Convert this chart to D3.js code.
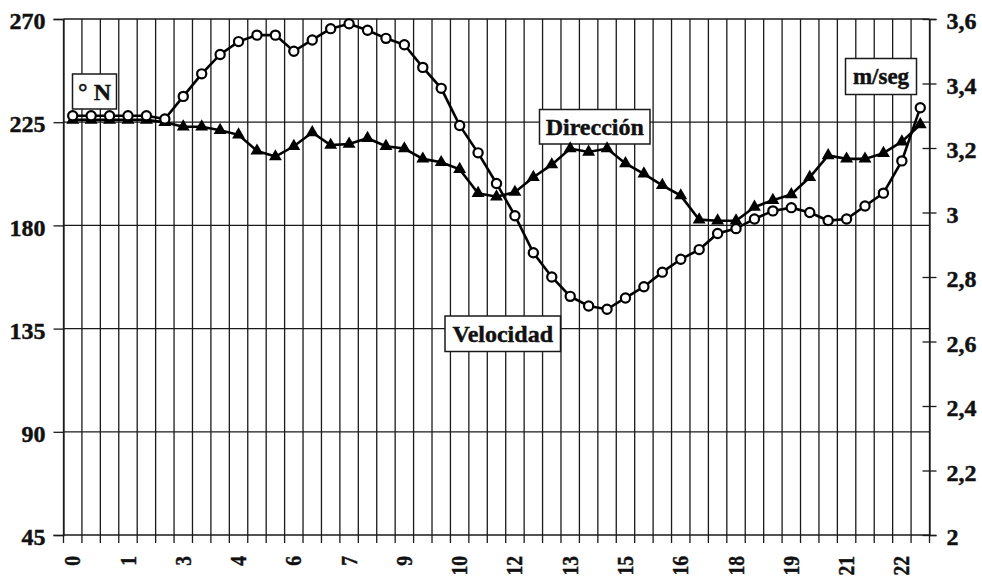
<!DOCTYPE html>
<html>
<head>
<meta charset="utf-8">
<script src="https://cdn.jsdelivr.net/npm/d3@7/dist/d3.min.js"></script>
<style>
  html, body { margin: 0; padding: 0; background: #fff; }
  svg { display: block; }
  text { font-family: "Liberation Serif", "Times New Roman", serif; font-weight: bold; fill: #111; stroke: #111; stroke-width: 0.45px; }
</style>
</head>
<body>
<svg id="chart" width="982" height="577"></svg>
<script>
// Half-hourly readings, 0:00 to 23:00
const horas = [
  "0:00","0:30","1:00","1:30","2:00","2:30","3:00","3:30","4:00","4:30",
  "5:00","5:30","6:00","6:30","7:00","7:30","8:00","8:30","9:00","9:30",
  "10:00","10:30","11:00","11:30","12:00","12:30","13:00","13:30","14:00","14:30",
  "15:00","15:30","16:00","16:30","17:00","17:30","18:00","18:30","19:00","19:30",
  "20:00","20:30","21:00","21:30","22:00","22:30","23:00"
];

// Wind direction (degrees from North), left axis
const direccion = [
  226, 226, 226, 226, 226, 225, 223, 223, 221.5, 219.5,
  212.5, 210, 214.5, 220.5, 215, 215.5, 218, 214.5, 213.5, 209,
  207.5, 204.5, 194, 192.5, 194.5, 201, 206.5, 213.5, 212, 213.5,
  207, 202.5, 197.5, 193, 182.5, 182, 182, 188, 191, 193.5,
  201, 210.5, 209, 209, 211.5, 216.5, 224
];

// Wind speed (m/seg), right axis
const velocidad = [
  3.30, 3.30, 3.30, 3.30, 3.30, 3.29, 3.36, 3.43, 3.49, 3.53,
  3.55, 3.55, 3.50, 3.535, 3.57, 3.585, 3.565, 3.54, 3.52, 3.45,
  3.385, 3.27, 3.185, 3.09, 2.99, 2.875, 2.80, 2.74, 2.71, 2.70,
  2.735, 2.77, 2.815, 2.855, 2.885, 2.935, 2.95, 2.98, 3.005, 3.015,
  3.00, 2.975, 2.98, 3.02, 3.06, 3.16, 3.325
];

// Axis ticks and labels
const ticksIzq = [45, 90, 135, 180, 225, 270];
const ticksDer = [2, 2.2, 2.4, 2.6, 2.8, 3, 3.2, 3.4, 3.6];
const etiquetasDer = ["2", "2,2", "2,4", "2,6", "2,8", "3", "3,2", "3,4", "3,6"];
const etiquetasX = ["0","1","3","4","6","7","9","10","12","13","15","16","18","19","21","22"];

const svg = d3.select("#chart");
const plotL = 63.5, plotR = 929.5, plotT = 19, plotB = 535;

const x = d3.scaleBand().domain(horas).range([plotL, plotR]).padding(0);
const yIzq = d3.scaleLinear().domain([45, 270]).range([plotB, plotT]);
const yDer = d3.scaleLinear().domain([2, 3.6]).range([plotB, plotT]);

const ink = "#1a1a1a";

// Vertical grid lines at every category boundary (with ticks below the axis)
const bordes = horas.map(h => x(h)).concat([x(horas[horas.length - 1]) + x.step()]);
svg.append("g").selectAll("line").data(bordes).join("line")
  .attr("x1", d => d).attr("x2", d => d)
  .attr("y1", plotT).attr("y2", plotB + 8)
  .attr("stroke", ink).attr("stroke-width", 1.3);

// Horizontal grid lines from the left axis
svg.append("g").selectAll("line").data(ticksIzq).join("line")
  .attr("x1", plotL).attr("x2", plotR)
  .attr("y1", d => yIzq(d)).attr("y2", d => yIzq(d))
  .attr("stroke", ink).attr("stroke-width", 1.3);

// Left axis
const ejeIzq = svg.append("g").attr("transform", `translate(${plotL},0)`)
  .call(d3.axisLeft(yIzq).tickValues(ticksIzq).tickSize(10).tickPadding(8).tickFormat(d3.format("d")));
ejeIzq.select(".domain").attr("stroke", ink).attr("stroke-width", 1.3);
ejeIzq.selectAll(".tick line").attr("stroke", ink).attr("stroke-width", 1.3);
ejeIzq.selectAll(".tick text").attr("font-size", 24).attr("dy", "0.4em");

// Right axis with ticks crossing the frame
const ejeDer = svg.append("g").attr("transform", `translate(${plotR},0)`)
  .call(d3.axisRight(yDer).tickValues(ticksDer).tickSize(7).tickPadding(10)
    .tickFormat((d, i) => etiquetasDer[i]));
ejeDer.select(".domain").attr("stroke", ink).attr("stroke-width", 1.3);
ejeDer.selectAll(".tick line").attr("x1", -7).attr("stroke", ink).attr("stroke-width", 1.3);
ejeDer.selectAll(".tick text").attr("font-size", 24).attr("dy", "0.4em");

// Category labels, every third half-hour, rotated and slightly condensed
const conEtiqueta = horas.filter((h, i) => i % 3 === 0);
svg.append("g").selectAll("text").data(conEtiqueta).join("text")
  .attr("transform", d => `translate(${x(d) + x.bandwidth() / 2},556) rotate(-90) scale(0.85,1)`)
  .attr("text-anchor", "end")
  .attr("dominant-baseline", "central")
  .attr("font-size", 23)
  .text((d, i) => etiquetasX[i]);

// Text boxes
function caja(x0, y0, w, h, texto, size) {
  const g = svg.append("g");
  g.append("rect").attr("x", x0).attr("y", y0).attr("width", w).attr("height", h)
    .attr("fill", "#fff").attr("stroke", ink).attr("stroke-width", 1.5);
  g.append("text").attr("x", x0 + w / 2).attr("y", y0 + h / 2)
    .attr("text-anchor", "middle").attr("dominant-baseline", "central")
    .attr("font-size", size).text(texto);
}
caja(72.5, 74, 44, 35, "° N", 24);
caja(539.5, 109.5, 110.5, 34.5, "Dirección", 24);
caja(845.5, 58.5, 71, 36, "m/seg", 23);
caja(445, 316, 115.5, 35.5, "Velocidad", 24);

const cx = h => x(h) + x.bandwidth() / 2;

// Direction series: line with filled triangles
svg.append("path").datum(direccion)
  .attr("fill", "none").attr("stroke", "#000").attr("stroke-width", 2.6)
  .attr("d", d3.line().x((d, i) => cx(horas[i])).y(d => yIzq(d)));
svg.append("g").selectAll("path").data(direccion).join("path")
  .attr("transform", (d, i) => `translate(${cx(horas[i])},${yIzq(d)})`)
  .attr("d", d3.symbol(d3.symbolTriangle, 72))
  .attr("fill", "#000");

// Speed series: line with open circles
svg.append("path").datum(velocidad)
  .attr("fill", "none").attr("stroke", "#000").attr("stroke-width", 2.6)
  .attr("d", d3.line().x((d, i) => cx(horas[i])).y(d => yDer(d)));
svg.append("g").selectAll("circle").data(velocidad).join("circle")
  .attr("cx", (d, i) => cx(horas[i])).attr("cy", d => yDer(d))
  .attr("r", 4.6).attr("fill", "#fff").attr("stroke", "#000").attr("stroke-width", 2.2);
</script>
</body>
</html>
